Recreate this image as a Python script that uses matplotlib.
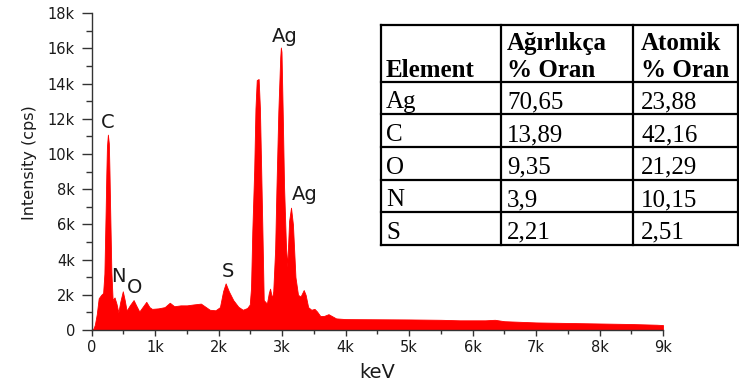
import numpy as np
import matplotlib
matplotlib.use('Agg')
import matplotlib.pyplot as plt
from matplotlib.lines import Line2D
from matplotlib.ticker import FuncFormatter, MultipleLocator

# EDS spectrum (energy in keV, intensity in k cps)
energy_kev = [0.0, 0.03, 0.05, 0.08, 0.11, 0.15, 0.18, 0.20, 0.22, 0.23, 0.24, 0.255, 0.27,
              0.28, 0.29, 0.31, 0.33, 0.36, 0.39, 0.42, 0.45, 0.49, 0.52, 0.55, 0.60, 0.66,
              0.70, 0.75, 0.80, 0.86, 0.91, 0.95, 1.05, 1.15, 1.23, 1.30, 1.40, 1.50,
              1.60, 1.72, 1.80, 1.86, 1.95, 2.02, 2.07, 2.11, 2.16, 2.23, 2.31, 2.38,
              2.45, 2.49, 2.51, 2.53, 2.56, 2.58, 2.60, 2.63, 2.65, 2.67, 2.69, 2.71,
              2.76, 2.79, 2.81, 2.84, 2.86, 2.89, 2.91, 2.94, 2.97, 2.98, 2.99, 3.01,
              3.03, 3.06, 3.08, 3.11, 3.14, 3.17, 3.21, 3.25, 3.29, 3.34, 3.37, 3.41,
              3.46, 3.51, 3.55, 3.60, 3.66, 3.73, 3.78, 3.85, 4.0, 4.5, 5.0, 5.5,
              5.8, 6.2, 6.35, 6.5, 7.0, 7.5, 8.0, 8.5, 8.9, 9.0, 9.0]
counts_k = [0.0, 0.1, 0.3, 0.9, 1.8, 2.0, 2.1, 3.2, 6.8, 8.8, 10.4, 11.1, 10.6,
            9.0, 7.0, 3.3, 1.7, 1.85, 1.5, 1.0, 1.6, 2.2, 1.7, 1.1, 1.4, 1.7,
            1.4, 1.05, 1.3, 1.6, 1.3, 1.2, 1.23, 1.3, 1.55, 1.35, 1.4, 1.4,
            1.45, 1.5, 1.3, 1.15, 1.12, 1.3, 2.2, 2.65, 2.2, 1.7, 1.32, 1.15,
            1.25, 1.45, 2.4, 5.6, 9.1, 12.6, 14.2, 14.26, 12.6, 9.1, 5.5, 1.7,
            1.5, 2.1, 2.35, 1.8, 2.2, 4.6, 8.0, 12.4, 15.5, 16.05, 15.8, 12.2,
            8.2, 4.8, 3.6, 6.2, 6.95, 6.0, 3.0, 2.0, 1.9, 2.27, 2.0, 1.3,
            1.15, 1.2, 1.05, 0.8, 0.8, 0.9, 0.8, 0.66, 0.62, 0.61, 0.6, 0.58,
            0.55, 0.55, 0.58, 0.5, 0.43, 0.4, 0.37, 0.34, 0.3, 0.28, 0.0]

peak_labels = ['C', 'N', 'O', 'S', 'Ag', 'Ag']
label_pos = [(0.257, 11.46), (0.42, 2.74), (0.677, 2.085), (2.14, 2.99),
             (3.036, 16.34), (3.35, 7.39)]

# table
elements = ['Ag', 'C', 'O', 'N', 'S']
weight_pct = ['70,65', '13,89', '9,35', '3,9', '2,21']
atomic_pct = ['23,88', '42,16', '21,29', '10,15', '2,51']
headers = [['', 'Element'], ['Ağırlıkça', '% Oran'], ['Atomik', '% Oran']]

W, H = 739, 385
fig = plt.figure(figsize=(W / 100, H / 100), dpi=100)
ax = fig.add_axes([91.7 / W, 1 - 330 / H, (663 - 91.7) / W, (330 - 13.2) / H])

x = np.array(energy_kev) * 1000
y = np.array(counts_k) * 1000
ax.fill_between(x, y, 0, color='#ff0000', lw=0.6, edgecolor='#ff0000')

ax.set_xlim(0, 9000)
ax.set_ylim(0, 18000)
kfmt = FuncFormatter(lambda v, p: '0' if v == 0 else f'{int(round(v / 1000))}k')
ax.xaxis.set_major_locator(MultipleLocator(1000))
ax.xaxis.set_minor_locator(MultipleLocator(500))
ax.yaxis.set_major_locator(MultipleLocator(2000))
ax.yaxis.set_minor_locator(MultipleLocator(1000))
ax.xaxis.set_major_formatter(kfmt)
ax.yaxis.set_major_formatter(kfmt)

for s in ['top', 'right']:
    ax.spines[s].set_visible(False)
for s in ['left', 'bottom']:
    ax.spines[s].set_color('#333333')
    ax.spines[s].set_linewidth(1.0)

ax.tick_params(axis='both', which='both', direction='out', color='#333333', width=1.0,
               labelsize=10.5, labelcolor='#1a1a1a')
ax.tick_params(axis='y', which='major', length=7, pad=5)
ax.tick_params(axis='y', which='minor', length=4)
ax.tick_params(axis='x', which='major', length=4.5, pad=3)
ax.tick_params(axis='x', which='minor', length=3)

ax.set_xlabel('keV', fontsize=14, color='#1a1a1a')
ax.xaxis.set_label_coords(0.5, -0.105)
ax.set_ylabel('Intensity (cps)', fontsize=11.5, color='#1a1a1a')
ax.yaxis.set_label_coords(-0.095, 0.527)

for lab, (lx, ly) in zip(peak_labels, label_pos):
    ax.text(lx * 1000, ly * 1000, lab, fontsize=14, ha='center', va='baseline',
            color='#1a1a1a')

# table drawn in pixel coordinates
def fx(px):
    return px / W

def fy(py):
    return 1 - py / H

col_x = [381, 501, 633, 737.5]
row_y = [25, 81.7, 114.3, 147, 179.6, 212.2, 244.8]
for cx in col_x:
    fig.add_artist(Line2D([fx(cx)] * 2, [fy(row_y[0]), fy(row_y[-1])],
                          transform=fig.transFigure, color='black', lw=1.6))
for ry in row_y:
    fig.add_artist(Line2D([fx(col_x[0]), fx(col_x[-1])], [fy(ry)] * 2,
                          transform=fig.transFigure, color='black', lw=1.6))

text_x = [386, 507, 641]
tfont = dict(family='Liberation Serif', fontsize=18, color='black')
for tx, (l1, l2) in zip(text_x, headers):
    fig.text(fx(tx), fy(50), l1, ha='left', va='baseline', weight='bold', **tfont)
    fig.text(fx(tx), fy(76.7), l2, ha='left', va='baseline', weight='bold', **tfont)

for i in range(len(elements)):
    base = row_y[i + 2] - 6
    for tx, val in zip(text_x, [elements[i], weight_pct[i], atomic_pct[i]]):
        fig.text(fx(tx), fy(base), val, ha='left', va='baseline', **tfont)

fig.savefig('out.png', dpi=100)
